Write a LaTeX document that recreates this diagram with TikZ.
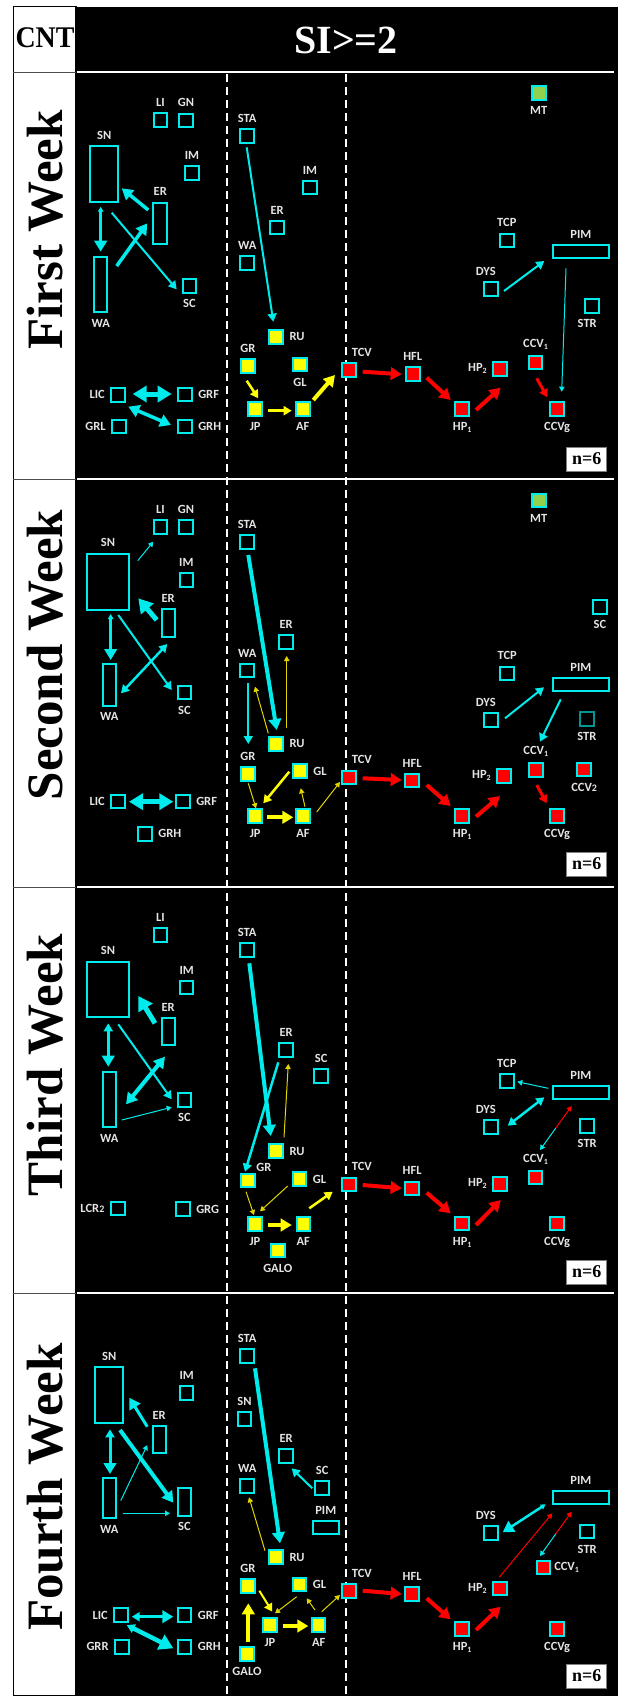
\documentclass[tikz,border=0pt]{standalone}
\usepackage{fontspec}
\setmainfont{Liberation Serif}
\newfontfamily\lblf{Carlito}
\usetikzlibrary{arrows.meta,calc}

\definecolor{cy}{RGB}{0,235,235}
\definecolor{yl}{RGB}{255,255,0}
\definecolor{yldk}{RGB}{225,212,0}
\definecolor{rd}{RGB}{255,0,0}
\definecolor{mtgreen}{RGB}{146,208,80}
\definecolor{lb}{RGB}{228,228,228}
\definecolor{tealdk}{RGB}{0,150,150}

% small subscript for node names
\newcommand\lsub[1]{\raisebox{-2pt}{\fontsize{8pt}{8pt}\selectfont#1}}
% connector between two named nodes, each end offset from the node centre
\newcommand\conn[7]{\draw[#1] ($(#2)+(#3,#4)$) -- ($(#5)+(#6,#7)$);}

\tikzset{
  hs/.tip={Triangle[length=5pt,width=5.5pt]},
  hm/.tip={Triangle[length=8pt,width=9pt]},
  hl/.tip={Triangle[length=11pt,width=12.5pt]},
  hx/.tip={Triangle[length=14pt,width=16pt]},
  bx/.style={draw=cy, line width=2pt, fill=black, minimum width=13.5pt,
             minimum height=13.5pt, inner sep=0pt},
  yb/.style={bx, fill=yl},
  rb/.style={bx, fill=rd},
  gb/.style={bx, fill=mtgreen},
  lab/.style={text=lb, font=\lblf\bfseries\fontsize{12.5pt}{14pt}\selectfont, inner sep=0pt},
  ca/.style={draw=cy, line width=#1},
  ya/.style={draw=yl, line width=#1},
  yt/.style={draw=yldk, line width=#1},
  ra/.style={draw=rd, line width=#1},
  wk/.style={font=\fontsize{51pt}{54pt}\selectfont\bfseries, inner sep=0pt},
  nbox/.style={draw=gray, fill=white, line width=1pt, minimum width=40pt,
               minimum height=24pt, inner sep=0pt, font=\fontsize{18pt}{20pt}\selectfont\bfseries},
}

\begin{document}
\begin{tikzpicture}[x=1pt,y=-1pt,label distance=5.5pt]
\useasboundingbox (0,0) rectangle (621,1698);
\fill[white] (0,0) rectangle (621,1698);

% table frame
\fill[black] (76,6.7) rectangle (617.5,1695.5);
\draw[black, line width=1.2pt] (13.3,6.7) rectangle (76,1695.5);
\foreach \yy in {72,479,887,1293} {
  \draw[black!70, line width=1pt] (13.3,\yy) -- (76,\yy);
  \draw[white, line width=2pt] (77,\yy) -- (614,\yy);
}
\draw[white, line width=2pt, dash pattern=on 8pt off 5pt] (226.7,74) -- (226.7,1695);
\draw[white, line width=2pt, dash pattern=on 8pt off 5pt] (345.7,74) -- (345.7,1695);

% headings
\node[font=\fontsize{30pt}{32pt}\selectfont\bfseries, xscale=0.93, inner sep=0pt] (hcnt) at (45,38) {CNT};
\node[font=\fontsize{40pt}{42pt}\selectfont\bfseries, text=white, inner sep=0pt] (hsi) at (346,40.5) {SI>=2};
\node[wk, rotate=90] (w1) at (45,230) {First Week};
\node[wk, rotate=90] (w2) at (45,655) {Second Week};
\node[wk, rotate=90] (w3) at (45,1065) {Third Week};
\node[wk, rotate=90] (w4) at (45,1487) {Fourth Week};

% ================= first week =================
\node[bx,label={[lab]above:LI}] (aLI) at (160.5,120) {};
\node[bx,label={[lab]above:GN}] (aGN) at (186,120.5) {};
\node[bx,minimum width=28pt,minimum height=56.3pt,label={[lab]above:SN}] (aSN) at (104.3,174.2) {};
\node[bx,label={[lab]above:IM}] (aIM) at (192,173.2) {};
\node[bx,minimum width=14pt,minimum height=41.3pt,label={[lab]above:ER}] (aER) at (160.3,223.3) {};
\node[bx,minimum width=13pt,minimum height=55.3pt,label={[lab]below:WA}] (aWA) at (100.8,284.7) {};
\node[bx,label={[lab]below:SC}] (aSC) at (189.5,285.8) {};
\node[bx,label={[lab]left:LIC}] (aLIC) at (118.2,394.8) {};
\node[bx,label={[lab]right:GRF}] (aGRF) at (184.8,394.5) {};
\node[bx,label={[lab]left:GRL}] (aGRL) at (119.2,426.5) {};
\node[bx,label={[lab]right:GRH}] (aGRH) at (184.8,426.5) {};
\node[bx,label={[lab]above:STA}] (aSTA) at (247.2,135.8) {};
\node[bx,label={[lab]above:IM}] (aIMm) at (310,187.5) {};
\node[bx,label={[lab]above:ER}] (aERm) at (277.2,227.5) {};
\node[bx,label={[lab]above:WA}] (aWAm) at (247.2,262.8) {};
\node[yb,label={[lab]right:RU}] (aRU) at (276.2,336.8) {};
\node[yb,label={[lab]above:GR}] (aGR) at (247.8,366.2) {};
\node[yb,label={[lab]below:GL}] (aGL) at (300,364.5) {};
\node[yb,label={[lab]below:JP}] (aJP) at (255.2,409.2) {};
\node[yb,label={[lab]below:AF}] (aAF) at (302.8,409.2) {};
\node[rb,label={[lab,xshift=13pt]above:TCV}] (aTCV) at (348.8,370.2) {};
\node[rb,label={[lab]above:HFL}] (aHFL) at (412.8,373.8) {};
\node[rb,label={[lab]below:HP\lsub{1}}] (aHP1) at (462.2,409.2) {};
\node[rb,label={[lab]left:HP\lsub{2}}] (aHP2) at (500.2,368.8) {};
\node[rb,label={[lab]above:CCV\lsub{1}}] (aCCV1) at (535.5,362.5) {};
\node[rb,label={[lab]below:CCVg}] (aCCVg) at (557.2,408.8) {};
\node[gb,label={[lab]below:MT}] (aMT) at (538.8,92.8) {};
\node[bx,label={[lab]above:TCP}] (aTCP) at (506.8,240.5) {};
\node[bx,minimum width=56.3pt,minimum height=13pt,label={[lab]above:PIM}] (aPIM) at (580.8,251.8) {};
\node[bx,label={[lab,xshift=-5pt]above:DYS}] (aDYS) at (490.8,289.2) {};
\node[bx,label={[lab,xshift=-5pt]below:STR}] (aSTR) at (592.2,305.8) {};
\node[nbox] (aN) at (586.7,459) {n=6};

\conn{ca=3,hs-hl}{aSN}{-3.6}{32.5}{aWA}{-0.1}{-33}
\conn{ca=3.5,-hl}{aER}{-12}{-13.3}{aSN}{17.4}{14.1}
\conn{ca=3.5,-hl}{aWA}{15.9}{-18.7}{aER}{-13}{0}
\conn{ca=2,-hm}{aSN}{7.4}{38.5}{aSC}{-12.8}{3.5}
\conn{ca=5,hx-hx}{aLIC}{14.5}{-0.8}{aGRF}{-13.1}{-0.5}
\conn{ca=3.5,hl-hl}{aLIC}{10.1}{11.9}{aGRH}{-13.8}{-1.5}
\conn{ca=2,-hm}{aSTA}{-0.5}{11.5}{aRU}{-2.9}{-15.1}
\conn{ya=2.5,-hm}{aGR}{-1.1}{14.5}{aJP}{3.1}{-10.9}
\conn{ya=2.5,-hm}{aJP}{13.1}{1.5}{aAF}{-11.1}{1.5}
\conn{ya=4,-hl}{aAF}{10.5}{-9.2}{aTCV}{-13.8}{4.8}
\conn{ra=4,-hl}{aTCV}{13.9}{1.5}{aHFL}{-11.1}{0.5}
\conn{ra=4,-hl}{aHFL}{13.9}{3.9}{aHP1}{-11.5}{-9.2}
\conn{ra=4,-hl}{aHP1}{13.8}{0.8}{aHP2}{0.5}{18.9}
\conn{ra=3,-hm}{aCCV1}{1.2}{15.8}{aCCVg}{-9.9}{-11.5}
\conn{ca=2,-hm}{aDYS}{13.2}{1.8}{aPIM}{-36.5}{9.2}
\conn{ca=1,-hs}{aPIM}{-14.8}{16.5}{aCCVg}{4.5}{-17.1}

% ================= second week =================
\node[bx,label={[lab]above:LI}] (bLI) at (160.5,527.2) {};
\node[bx,label={[lab]above:GN}] (bGN) at (186,527.2) {};
\node[bx,minimum width=42pt,minimum height=56pt,label={[lab]above:SN}] (bSN) at (108,581.7) {};
\node[bx,label={[lab]above:IM}] (bIM) at (186.3,580.2) {};
\node[bx,minimum width=13pt,minimum height=28pt,label={[lab]above:ER}] (bER) at (168.2,623.3) {};
\node[bx,minimum width=13pt,minimum height=42pt,label={[lab]below:WA}] (bWA) at (109.2,684.7) {};
\node[bx,label={[lab]below:SC}] (bSC) at (184.5,692.5) {};
\node[bx,label={[lab]left:LIC}] (bLIC) at (118.2,801.5) {};
\node[bx,label={[lab]right:GRF}] (bGRF) at (182.8,801.5) {};
\node[bx,label={[lab]right:GRH}] (bGRH) at (145,833.8) {};
\node[bx,label={[lab]above:STA}] (bSTA) at (247.2,542.2) {};
\node[bx,label={[lab]above:ER}] (bERm) at (286.2,642.2) {};
\node[bx,label={[lab]above:WA}] (bWAm) at (247.2,670.5) {};
\node[yb,label={[lab]right:RU}] (bRU) at (276.2,743.8) {};
\node[yb,label={[lab]above:GR}] (bGR) at (247.8,773.8) {};
\node[yb,label={[lab]right:GL}] (bGL) at (300,771.2) {};
\node[yb,label={[lab]below:JP}] (bJP) at (255.2,816.2) {};
\node[yb,label={[lab]below:AF}] (bAF) at (303,816.2) {};
\node[rb,label={[lab,xshift=13pt]above:TCV}] (bTCV) at (348.8,777.5) {};
\node[rb,label={[lab]above:HFL}] (bHFL) at (412.2,780.5) {};
\node[rb,label={[lab]below:HP\lsub{1}}] (bHP1) at (462.2,816) {};
\node[rb,label={[lab]left:HP\lsub{2}}] (bHP2) at (504.2,775.8) {};
\node[rb,label={[lab]above:CCV\lsub{1}}] (bCCV1) at (535.8,770) {};
\node[rb,label={[lab]below:CCV{\fontsize{10pt}{10pt}\selectfont 2}}] (bCCV2) at (584.2,769.5) {};
\node[rb,label={[lab]below:CCVg}] (bCCVg) at (557.2,816) {};
\node[gb,label={[lab]below:MT}] (bMT) at (538.8,500.5) {};
\node[bx,label={[lab]below:SC}] (bSCr) at (600,606.8) {};
\node[bx,label={[lab]above:TCP}] (bTCP) at (507.2,673.5) {};
\node[bx,minimum width=56.3pt,minimum height=13pt,label={[lab]above:PIM}] (bPIM) at (580.8,684.5) {};
\node[bx,label={[lab,xshift=-5pt]above:DYS}] (bDYS) at (490.8,720.2) {};
\node[bx,draw=tealdk,label={[lab]below:STR}] (bSTR) at (586.8,719.2) {};
\node[nbox] (bN) at (586.7,864) {n=6};

\conn{ca=1,-hs}{bSN}{29.7}{-21}{bLI}{-7.2}{14.5}
\conn{ca=5,-hx}{bER}{-11.5}{-3.3}{bSN}{30.3}{16.6}
\conn{ca=2.5,hs-hl}{bSN}{2.7}{32.3}{bWA}{1.5}{-24.7}
\conn{ca=2.5,hm-hm}{bWA}{11.8}{8.6}{bER}{-0.9}{20.7}
\conn{ca=2,-hm}{bSN}{10.3}{33.3}{bSC}{-12.8}{-2.5}
\conn{ca=5,hx-hx}{bLIC}{10.8}{0.2}{bGRF}{-9.5}{0.2}
\conn{ca=4,-hl}{bSTA}{1.1}{12.8}{bRU}{0.5}{-13.8}
\conn{ca=2,-hm}{bWAm}{1.1}{12.2}{bGR}{0.5}{-29.8}
\conn{yt=1,-hs}{bRU}{-7.9}{-10.5}{bWAm}{7.8}{16.2}
\conn{yt=1,-hs}{bRU}{10.5}{-15.5}{bERm}{0.5}{13.8}
\conn{ya=2.5,-hm}{bGL}{-10.7}{0.5}{bJP}{8.1}{-12.9}
\conn{yt=1,-hs}{bGR}{0.5}{9.5}{bJP}{0.8}{-7.9}
\conn{yt=1,-hs}{bAF}{2}{-9.5}{bGL}{0.7}{17.1}
\conn{yt=1,-hs}{bAF}{13.7}{-4.2}{bTCV}{-8.8}{4.5}
\conn{ya=4,-hl}{bJP}{12.1}{1.1}{bAF}{-9.7}{1.1}
\conn{ra=4,-hl}{bTCV}{13.9}{0.8}{bHFL}{-10.5}{-0.5}
\conn{ra=4,-hl}{bHFL}{14.5}{4.5}{bHP1}{-11.5}{-10}
\conn{ra=4,-hl}{bHP1}{13.8}{0.7}{bHP2}{-4.2}{20.2}
\conn{ra=3,-hm}{bCCV1}{0.9}{15}{bCCVg}{-10.5}{-12.7}
\conn{ca=2,-hm}{bDYS}{14.2}{-1.9}{bPIM}{-36.8}{2.8}
\conn{ca=2,-hm}{bPIM}{-20.1}{14.8}{bCCV1}{4.2}{-28.3}

% ================= third week =================
\node[bx,label={[lab]above:LI}] (cLI) at (160.5,935.2) {};
\node[bx,minimum width=42pt,minimum height=55.6pt,label={[lab]above:SN}] (cSN) at (108,989.5) {};
\node[bx,label={[lab]above:IM}] (cIM) at (186.7,987.5) {};
\node[bx,minimum width=13pt,minimum height=27pt,label={[lab]above:ER}] (cER) at (168.2,1031.2) {};
\node[bx,minimum width=13pt,minimum height=55.6pt,label={[lab]below:WA}] (cWA) at (109.2,1099.5) {};
\node[bx,label={[lab]below:SC}] (cSC) at (184.5,1100.2) {};
\node[bx,label={[lab]left:LCR{\fontsize{10pt}{10pt}\selectfont 2}}] (cLCR) at (117.8,1208.3) {};
\node[bx,label={[lab]right:GRG}] (cGRG) at (182.8,1209.2) {};
\node[bx,label={[lab]above:STA}] (cSTA) at (247.2,950.2) {};
\node[bx,label={[lab]above:ER}] (cERm) at (286.2,1050.2) {};
\node[bx,label={[lab]above:SC}] (cSCm) at (321.2,1075.8) {};
\node[yb,label={[lab]right:RU}] (cRU) at (276.2,1151.2) {};
\node[yb,label={[lab,label distance=1pt,xshift=16pt]above:GR}] (cGR) at (247.8,1180.5) {};
\node[yb,label={[lab]right:GL}] (cGL) at (299.5,1179.2) {};
\node[yb,label={[lab]below:JP}] (cJP) at (255,1223.8) {};
\node[yb,label={[lab]below:AF}] (cAF) at (303.3,1223.8) {};
\node[yb,label={[lab]below:GALO}] (cGALO) at (277.8,1250.5) {};
\node[rb,label={[lab,xshift=13pt]above:TCV}] (cTCV) at (348.8,1184.5) {};
\node[rb,label={[lab]above:HFL}] (cHFL) at (412.2,1188.3) {};
\node[rb,label={[lab]below:HP\lsub{1}}] (cHP1) at (462.2,1223.5) {};
\node[rb,label={[lab]left:HP\lsub{2}}] (cHP2) at (500.2,1183.8) {};
\node[rb,label={[lab]above:CCV\lsub{1}}] (cCCV1) at (535.5,1177.5) {};
\node[rb,label={[lab]below:CCVg}] (cCCVg) at (557.2,1223.5) {};
\node[bx,label={[lab]above:TCP}] (cTCP) at (506.8,1080.8) {};
\node[bx,minimum width=56.3pt,minimum height=13pt,label={[lab]above:PIM}] (cPIM) at (580.8,1092.2) {};
\node[bx,label={[lab,xshift=-5pt]above:DYS}] (cDYS) at (490.8,1127.2) {};
\node[bx,label={[lab]below:STR}] (cSTR) at (587.2,1126.2) {};
\node[nbox] (cN) at (586.7,1272) {n=6};
\coordinate (cMid) at (555.8,1128);

\conn{ca=5,-hx}{cER}{-13.2}{-7.9}{cSN}{30.3}{6.5}
\conn{ca=2.5,hm-hl}{cSN}{0.3}{33.8}{cWA}{-0.9}{-32.8}
\conn{ca=4,hl-hl}{cWA}{16.8}{4.8}{cER}{-3.2}{25.5}
\conn{ca=2,-hm}{cSN}{10.3}{34.8}{cSC}{-12.8}{-0.9}
\conn{ca=1,-hs}{cWA}{12.5}{20.5}{cSC}{-12.8}{7.1}
\conn{ca=4,-hl}{cSTA}{2.1}{13.1}{cRU}{-5.5}{-15.2}
\conn{ca=2.5,-hm}{cERm}{-7.9}{12.1}{cGR}{-2.8}{-8.8}
\conn{yt=1,-hs}{cRU}{7.8}{-13.9}{cERm}{2.1}{13.8}
\conn{yt=1,-hs}{cGR}{-1.8}{11.2}{cJP}{-1}{-8.8}
\conn{yt=1,-hs}{cGL}{-11.8}{6.8}{cJP}{5}{-12.5}
\conn{ya=4,-hl}{cJP}{13.3}{1.2}{cAF}{-11.6}{1.2}
\conn{ya=2.5,-hm}{cAF}{6}{-15.5}{cTCV}{-16.1}{7.2}
\conn{ra=4,-hl}{cTCV}{13.9}{0.5}{cHFL}{-10.5}{0}
\conn{ra=4,-hl}{cHFL}{14.5}{4.4}{cHP1}{-11.5}{-10.2}
\conn{ra=4,-hl}{cHP1}{13.8}{1.5}{cHP2}{0.5}{16.2}
\conn{ca=1,-hs}{cPIM}{-32.5}{-3.9}{cTCP}{10.5}{0.9}
\conn{ca=2.5,hm-hm}{cPIM}{-36.5}{5.1}{cDYS}{16.9}{-1.5}
\draw[ca=1,-hs] (cMid) -- ($(cCCV1)+(4.5,-27.5)$);
\draw[ra=1,-hs] (cMid) -- ($(cPIM)+(-9.1,13.8)$);

% ================= fourth week =================
\node[bx,minimum width=28pt,minimum height=56pt,label={[lab]above:SN}] (dSN) at (109.3,1395) {};
\node[bx,label={[lab]above:IM}] (dIM) at (186.7,1393) {};
\node[bx,minimum width=13pt,minimum height=27pt,label={[lab]above:ER}] (dER) at (159.2,1439.5) {};
\node[bx,minimum width=13pt,minimum height=40.6pt,label={[lab]below:WA}] (dWA) at (109.2,1498) {};
\node[bx,minimum width=13.6pt,minimum height=27.4pt,label={[lab]below:SC}] (dSC) at (184.5,1502) {};
\node[bx,label={[lab]left:LIC}] (dLIC) at (121.2,1615) {};
\node[bx,label={[lab]right:GRF}] (dGRF) at (184.5,1615) {};
\node[bx,label={[lab]left:GRR}] (dGRR) at (122,1646.8) {};
\node[bx,label={[lab]right:GRH}] (dGRH) at (184.5,1646.8) {};
\node[bx,label={[lab]above:STA}] (dSTA) at (247.2,1355.8) {};
\node[bx,label={[lab]above:SN}] (dSNm) at (244.5,1419.2) {};
\node[bx,label={[lab]above:ER}] (dERm) at (286.2,1455.8) {};
\node[bx,label={[lab]above:WA}] (dWAm) at (247.2,1485.8) {};
\node[bx,label={[lab]above:SC}] (dSCm) at (322.2,1487.8) {};
\node[bx,minimum width=26.3pt,minimum height=13pt,label={[lab]above:PIM}] (dPIMm) at (325.8,1527.5) {};
\node[yb,label={[lab]right:RU}] (dRU) at (276.2,1557.2) {};
\node[yb,label={[lab]above:GR}] (dGR) at (247.8,1586.2) {};
\node[yb,label={[lab]right:GL}] (dGL) at (299.5,1584.7) {};
\node[yb,label={[lab]below:JP}] (dJP) at (270,1625) {};
\node[yb,label={[lab]below:AF}] (dAF) at (318.7,1625) {};
\node[yb,label={[lab]below:GALO}] (dGALO) at (247,1653.8) {};
\node[rb,label={[lab,xshift=13pt]above:TCV}] (dTCV) at (348.8,1590.8) {};
\node[rb,label={[lab]above:HFL}] (dHFL) at (412.2,1594) {};
\node[rb,label={[lab]below:HP\lsub{1}}] (dHP1) at (462.2,1628.8) {};
\node[rb,label={[lab]left:HP\lsub{2}}] (dHP2) at (500.2,1588.7) {};
\node[rb,label={[lab,label distance=3pt]right:CCV\lsub{1}}] (dCCV1) at (543.3,1567.5) {};
\node[rb,label={[lab]below:CCVg}] (dCCVg) at (557.2,1628.8) {};
\node[bx,minimum width=56.3pt,minimum height=13pt,label={[lab]above:PIM}] (dPIM) at (580.8,1497.5) {};
\node[bx,label={[lab,xshift=-5pt]above:DYS}] (dDYS) at (490.8,1532.8) {};
\node[bx,label={[lab]below:STR}] (dSTR) at (587.2,1531.7) {};
\node[nbox] (dN) at (586.7,1676) {n=6};
\coordinate (dMid) at (555.8,1533.8);

\conn{ca=3,-hl}{dER}{-11.9}{-12.8}{dSN}{20}{2.7}
\conn{ca=3,hm-hl}{dSN}{0.7}{34.3}{dWA}{0.8}{-24}
\conn{ca=4,-hl}{dSN}{10.7}{35}{dSC}{-11.2}{0.7}
\conn{ca=1,-hs}{dWA}{11.5}{2.7}{dER}{-11.9}{5.5}
\conn{ca=1,-hs}{dWA}{13.5}{15.3}{dSC}{-14.5}{11.3}
\conn{ca=3.5,hm-hl}{dLIC}{10.5}{1.7}{dGRF}{-11.2}{1.7}
\conn{ca=4.5,hm-hx}{dLIC}{5.5}{10}{dGRH}{-11.2}{1.5}
\conn{ca=2,-hm}{dSCm}{-9.9}{0.5}{dERm}{5.5}{12.5}
\conn{ca=4,-hl}{dSTA}{7.8}{12.5}{dRU}{3.8}{-13.9}
\conn{yt=1,-hs}{dRU}{-11.2}{-6.5}{dWAm}{1.8}{11.5}
\conn{ya=2,-hm}{dGR}{11.5}{4.5}{dJP}{2.3}{-13.3}
\conn{yt=1,-hs}{dGL}{-2.8}{12}{dJP}{5}{-11.7}
\conn{yt=1,-hs}{dAF}{-3.7}{-15}{dGL}{7.2}{13.6}
\conn{yt=1,-hs}{dAF}{3}{-13.3}{dTCV}{-8.8}{4.2}
\conn{ya=4,-hl}{dJP}{12.7}{1}{dAF}{-10.4}{1}
\conn{ya=4,-hl}{dGALO}{1.3}{-12.1}{dGR}{0.5}{17.1}
\conn{ra=4,-hl}{dTCV}{13.9}{-0.1}{dHFL}{-10.5}{0}
\conn{ra=4,-hl}{dHFL}{14.5}{4.3}{dHP1}{-11.5}{-9.5}
\conn{ra=4,-hl}{dHP1}{13.8}{1.2}{dHP2}{0.5}{18}
\conn{ca=2.5,hs-hl}{dPIM}{-35.1}{6.8}{dDYS}{11.9}{-0.5}
\conn{ra=1,-hs}{dHP2}{-0.9}{-11.4}{dPIM}{-28.5}{15.8}
\draw[ca=1,-hs] (dMid) -- ($(dCCV1)+(-3.3,-11.5)$);
\draw[ra=1,-hs] (dMid) -- ($(dPIM)+(-9.1,14.2)$);
\end{tikzpicture}
\end{document}
